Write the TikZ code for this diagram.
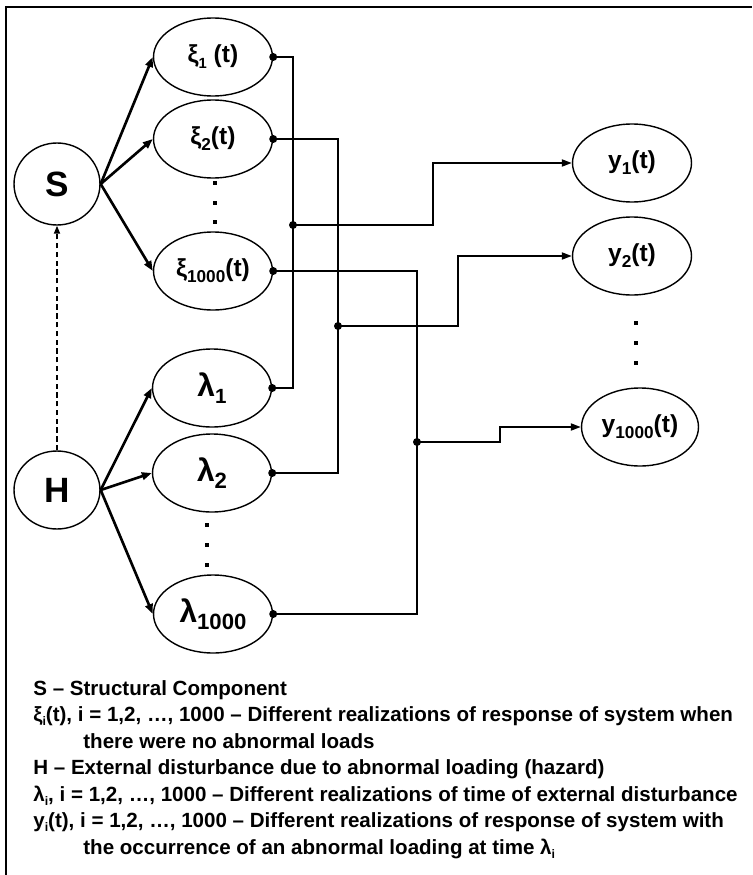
\documentclass[tikz,border=0pt]{standalone}
\usepackage{fontspec}
\setmainfont{Liberation Sans}
\usetikzlibrary{shapes.geometric,arrows.meta}
\newcommand{\lsub}[2][0.75]{\raisebox{-0.45ex}{\scalebox{#1}{#2}}}
\begin{document}
\begin{tikzpicture}[x=0.02cm,y=-0.02cm,
  oval/.style={draw, ellipse, line width=0.8pt, inner sep=0pt, minimum width=2.38cm, minimum height=1.56cm, font=\fontsize{14}{14}\selectfont\bfseries},
  bigoval/.style={oval, font=\fontsize{18}{18}\selectfont\bfseries},
  root/.style={draw, ellipse, line width=0.8pt, inner sep=0pt, minimum width=1.72cm, font=\fontsize{20}{20}\selectfont\bfseries},
  branch/.style={line width=1.5pt, -{Triangle[length=2mm,width=1.5mm]}},
  wire/.style={line width=1.1pt},
  feed/.style={line width=1.1pt, -{Triangle[length=2mm,width=1.4mm]}},
  legend/.style={anchor=base west, inner sep=0pt, font=\fontsize{11.7}{11.7}\selectfont\bfseries}]
\useasboundingbox (0,0) rectangle (752,875);
\draw[line width=1pt] (6,875) -- (6,7) -- (752,7);

\node[root, minimum height=1.64cm] (s) at (57,184) {S};
\node[root, minimum height=1.56cm] (h) at (57,490) {H};

\node[oval] (x1) at (213,57) {ξ\lsub[0.6]{1} (t)};
\node[oval] (x2) at (213,139) {ξ\lsub[0.7]{2}(t)};
\node[oval] (x3) at (213,271) {ξ\lsub[0.7]{1000}(t)};
\node[bigoval] (l1) at (212,388) {λ\lsub[0.65]{1}};
\node[bigoval] (l2) at (212,473) {λ\lsub[0.7]{2}};
\node[bigoval] (l3) at (213,614) {λ\lsub[0.7]{1000}};
\node[oval] (y1) at (632,163) {y\lsub[0.7]{1}(t)};
\node[oval] (y2) at (632,256) {y\lsub[0.7]{2}(t)};
\node[oval, minimum width=2.34cm] (y3) at (640,427) {y\lsub[0.7]{1000}(t)};

% vertical dots
\fill (213,181) rectangle (217,185);
\fill (213,201) rectangle (217,205);
\fill (213,220) rectangle (217,224);
\fill (205,523) rectangle (209,527);
\fill (205,543) rectangle (209,547);
\fill (205,563) rectangle (209,567);
\fill (634,321) rectangle (638,325);
\fill (634,341) rectangle (638,345);
\fill (634,361) rectangle (638,365);

\draw[line width=1pt, densely dashed, -{Triangle[length=1.6mm,width=1.2mm]}] (h.north) -- (s.south);

\draw[branch] (s.east) -- (x1.west);
\draw[branch] (s.east) -- (x2.west);
\draw[branch] (s.east) -- (x3.west);
\draw[branch] (h.east) -- (l1.west);
\draw[branch] (h.east) -- (l2.west);
\draw[branch] (h.east) -- (l3.west);

\coordinate (j1) at (293,225);
\coordinate (j2) at (338,326);
\coordinate (j3) at (417,442);
\coordinate (k1) at (433,225);
\coordinate (k2) at (458,326);
\coordinate (k3) at (500,442);

\draw[wire] (x1.east) -| (j1) |- (l1.east);
\draw[wire] (x2.east) -| (j2) |- (l2.east);
\draw[wire] (x3.east) -| (j3) |- (l3.east);
\draw[feed] (j1) -- (k1) |- (y1.west);
\draw[feed] (j2) -- (k2) |- (y2.west);
\draw[feed] (j3) -- (k3) |- (y3.west);

\fill (x1.east) circle (0.08cm);
\fill (x2.east) circle (0.08cm);
\fill (x3.east) circle (0.08cm);
\fill (l1.east) circle (0.08cm);
\fill (l2.east) circle (0.08cm);
\fill (l3.east) circle (0.08cm);
\fill (j1) circle (0.08cm);
\fill (j2) circle (0.08cm);
\fill (j3) circle (0.08cm);

\node[legend] (leg1) at (33,695) {S – Structural Component};
\node[legend] (leg2) at (33,721) {ξ\lsub[0.6]{i}(t), i = 1,2, …, 1000 – Different realizations of response of system when};
\node[legend] (leg3) at (83,748) {there were no abnormal loads};
\node[legend] (leg4) at (33,774) {H – External disturbance due to abnormal loading (hazard)};
\node[legend] (leg5) at (33,801) {λ\lsub[0.6]{i}, i = 1,2, …, 1000 – Different realizations of time of external disturbance};
\node[legend] (leg6) at (33,827) {y\lsub[0.6]{i}(t), i = 1,2, …, 1000 – Different realizations of response of system with};
\node[legend] (leg7) at (83,854) {the occurrence of an abnormal loading at time λ\lsub[0.6]{i}};
\end{tikzpicture}
\end{document}
